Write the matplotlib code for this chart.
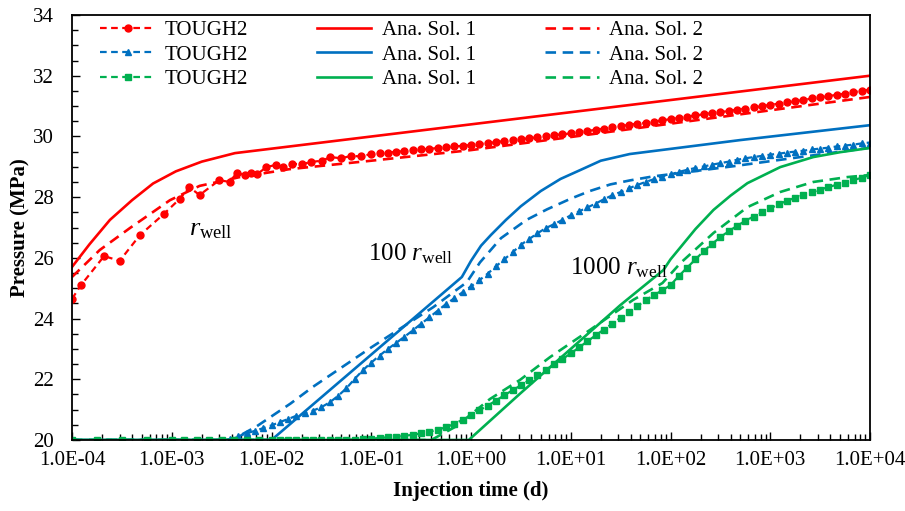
import matplotlib
matplotlib.use('Agg')
import matplotlib.pyplot as plt
from matplotlib.ticker import FixedLocator, MultipleLocator, FuncFormatter, NullFormatter

plt.rcParams['font.family'] = 'Liberation Serif'
plt.rcParams['mathtext.fontset'] = 'custom'
plt.rcParams['mathtext.rm'] = 'Liberation Serif'
plt.rcParams['mathtext.it'] = 'Liberation Serif:italic'

RED = '#FF0000'
BLUE = '#0070C0'
GREEN = '#00B050'

x_major = [1e-4, 1e-3, 1e-2, 1e-1, 1e0, 1e1, 1e2, 1e3, 1e4]

# TOUGH2 output times (dense part of the run)
t_dense = [1e-2, 1.21e-2, 1.47e-2, 1.78e-2, 2.15e-2, 2.61e-2, 3.16e-2, 3.83e-2, 4.64e-2, 5.62e-2, 6.81e-2, 8.25e-2,
           0.1, 0.121, 0.147, 0.178, 0.215, 0.261, 0.316, 0.383, 0.464, 0.562, 0.681, 0.825,
           1, 1.21, 1.47, 1.78, 2.15, 2.61, 3.16, 3.83, 4.64, 5.62, 6.81, 8.25,
           10, 12.1, 14.7, 17.8, 21.5, 26.1, 31.6, 38.3, 46.4, 56.2, 68.1, 82.5,
           100, 121, 147, 178, 215, 261, 316, 383, 464, 562, 681, 825,
           1000, 1210, 1470, 1780, 2150, 2610, 3160, 3830, 4640, 5620, 6810, 8250, 1e4]

# ---- r_well ----
t_red_T = [1e-4, 1.23e-4, 2.1e-4, 3.0e-4, 4.8e-4, 8.3e-4, 1.2e-3, 1.5e-3, 1.9e-3, 3.0e-3, 3.8e-3, 4.5e-3, 5.4e-3, 6.2e-3, 7.2e-3, 8.9e-3,
           1.1e-2, 1.3e-2, 1.6e-2, 2.0e-2, 2.5e-2, 3.2e-2, 3.9e-2, 5e-2, 6.3e-2, 7.9e-2] + t_dense[12:]
p_red_T = [24.65, 25.1, 26.06, 25.9, 26.75, 27.44, 27.94, 28.33, 28.07, 28.56, 28.5, 28.8, 28.73, 28.8, 28.76, 28.99,
           29.06, 29.0, 29.1, 29.08, 29.16, 29.2, 29.32, 29.28, 29.36, 29.34,
           29.42, 29.44, 29.47, 29.49, 29.52, 29.54, 29.57, 29.59, 29.62, 29.64, 29.67, 29.69,
           29.72, 29.75, 29.78, 29.81, 29.85, 29.88, 29.91, 29.94, 29.97, 30.0, 30.04, 30.07,
           30.1, 30.14, 30.18, 30.22, 30.26, 30.3, 30.34, 30.38, 30.42, 30.45, 30.49, 30.53,
           30.57, 30.61, 30.65, 30.69, 30.73, 30.77, 30.8, 30.84, 30.88, 30.92, 30.96, 31.0,
           31.04, 31.08, 31.12, 31.16, 31.2, 31.25, 31.29, 31.33, 31.37, 31.41, 31.46, 31.5, 31.54]
t_red_s1 = [1e-4, 1.5e-4, 2.4e-4, 4e-4, 6.5e-4, 1.1e-3, 2e-3, 4.3e-3, 1e4]
p_red_s1 = [25.7, 26.45, 27.25, 27.9, 28.45, 28.85, 29.17, 29.45, 32.0]
t_red_s2 = [1e-4, 1.9e-4, 3.8e-4, 9.6e-4, 1.9e-3, 4.8e-3, 1.5e-2, 0.1, 1, 10, 100, 1000, 1e4]
p_red_s2 = [25.37, 26.26, 26.98, 27.9, 28.37, 28.66, 28.92, 29.2, 29.55, 29.98, 30.42, 30.86, 31.3]

# ---- 100 r_well ----
t_blue_T = [1e-4, 1.78e-4, 3.16e-4, 5.62e-4, 1e-3, 1.78e-3, 3.16e-3, 3.83e-3, 4.64e-3, 5.62e-3, 6.81e-3, 8.25e-3] + t_dense
p_blue_T = [20, 20, 20, 20, 20, 20, 20, 20.03, 20.12, 20.22, 20.3, 20.39,
            20.48, 20.59, 20.69, 20.8, 20.88, 20.97, 21.08, 21.24, 21.45, 21.7, 22.01, 22.3,
            22.55, 22.78, 23.0, 23.2, 23.4, 23.61, 23.83, 24.04, 24.26, 24.48, 24.67, 24.87,
            25.06, 25.26, 25.48, 25.72, 25.95, 26.18, 26.43, 26.62, 26.81, 26.98, 27.11, 27.25,
            27.4, 27.53, 27.66, 27.79, 27.93, 28.06, 28.17, 28.29, 28.4, 28.5, 28.59, 28.68,
            28.75, 28.83, 28.9, 28.96, 29.01, 29.07, 29.12, 29.17, 29.23, 29.28, 29.32, 29.36,
            29.4, 29.43, 29.47, 29.5, 29.53, 29.57, 29.6, 29.63, 29.67, 29.7, 29.73, 29.77, 29.8]
t_blue_s1 = [1e-4, 1e-2, 0.81, 1.0, 1.26, 1.58, 2.24, 3.16, 5.0, 7.9, 12.6, 20, 39, 500, 1e4]
p_blue_s1 = [20.0, 20.0, 25.37, 25.9, 26.4, 26.75, 27.25, 27.7, 28.2, 28.6, 28.9, 29.2, 29.42, 29.88, 30.37]
t_blue_s2 = [1e-4, 4e-3, 7.1e-3, 1.55e-2, 2.6e-2, 0.1, 0.42, 0.91, 1.23, 2.0, 3.6, 5.8, 10, 15.5, 25, 39, 66, 430, 2000, 1e4]
p_blue_s2 = [20.0, 20.0, 20.45, 21.2, 21.75, 23.05, 24.38, 25.2, 25.85, 26.65, 27.25, 27.6, 27.95, 28.2, 28.42, 28.55, 28.68, 29.02, 29.32, 29.63]

# ---- 1000 r_well ----
t_green_T = [1e-4, 1.78e-4, 3.16e-4, 5.62e-4, 1e-3, 1.33e-3, 1.78e-3, 2.37e-3, 3.16e-3, 4.22e-3, 5.62e-3, 7.5e-3] + t_dense
p_green_T = [20, 20, 20, 20, 20, 20, 20, 20, 20, 20, 20, 20,
             20, 20, 20, 20, 20, 20, 20, 20, 20, 20, 20.01, 20.03,
             20.04, 20.07, 20.09, 20.11, 20.14, 20.17, 20.22, 20.27, 20.34, 20.42, 20.53, 20.67,
             20.83, 20.98, 21.13, 21.3, 21.47, 21.64, 21.8, 21.97, 22.13, 22.3, 22.49, 22.67,
             22.85, 23.05, 23.25, 23.45, 23.64, 23.83, 24.03, 24.22, 24.41, 24.6, 24.77, 24.93,
             25.1, 25.4, 25.68, 25.95, 26.22, 26.46, 26.68, 26.88, 27.05, 27.22, 27.36, 27.5,
             27.63, 27.76, 27.88, 27.98, 28.07, 28.16, 28.25, 28.33, 28.41, 28.48, 28.56, 28.64, 28.73]
t_green_s1 = [1e-4, 0.95, 3.16, 10, 31.6, 85, 100, 126, 178, 270, 400, 590, 1260, 2700, 5000, 1e4]
p_green_s1 = [20, 20, 21.55, 23.0, 24.45, 25.6, 25.95, 26.35, 26.95, 27.58, 28.05, 28.46, 28.99, 29.32, 29.48, 29.62]
t_green_s2 = [1e-4, 0.4, 0.71, 1.55, 3.1, 6.2, 15.5, 42, 83, 126, 270, 590, 1260, 2700, 5900, 1e4]
p_green_s2 = [20, 20, 20.45, 21.35, 21.98, 22.73, 23.62, 24.61, 25.17, 25.83, 26.82, 27.67, 28.17, 28.5, 28.66, 28.73]

labels = ['TOUGH2', 'Ana. Sol. 1', 'Ana. Sol. 2']

fig = plt.figure(figsize=(9.05, 5.11), dpi=100)
ax = fig.add_axes([72 / 905, 1 - 440 / 511, (870 - 72) / 905, (440 - 15) / 511])

series = [
    (RED, 'o', t_red_T, p_red_T, t_red_s1, p_red_s1, t_red_s2, p_red_s2),
    (BLUE, '^', t_blue_T, p_blue_T, t_blue_s1, p_blue_s1, t_blue_s2, p_blue_s2),
    (GREEN, 's', t_green_T, p_green_T, t_green_s1, p_green_s1, t_green_s2, p_green_s2),
]
cols = [[], [], []]
for c, m, tT, pT, t1, p1, t2, p2 in series:
    hT, = ax.plot(tT, pT, color=c, ls=(0, (3, 2)), lw=1.6, marker=m, ms=5, label=labels[0])
    h1, = ax.plot(t1, p1, color=c, ls='-', lw=1.9, label=labels[1])
    h2, = ax.plot(t2, p2, color=c, ls=(0, (4, 2.5)), lw=1.9, label=labels[2])
    cols[0].append(hT)
    cols[1].append(h1)
    cols[2].append(h2)

handles = cols[0] + cols[1] + cols[2]
ax.legend(handles, [h.get_label() for h in handles], ncol=3, loc='upper left',
          bbox_to_anchor=(0.02, 1.017), frameon=False, fontsize=15, handlelength=2.6,
          handletextpad=0.5, columnspacing=3.3, labelspacing=0.25, borderaxespad=0.2)

ax.set_xscale('log')
ax.set_xlim(1e-4, 1e4)
ax.set_ylim(20, 34)
minors = [m * d for d in x_major[:-1] for m in range(2, 10)]
ax.xaxis.set_major_locator(FixedLocator(x_major))
ax.xaxis.set_minor_locator(FixedLocator(minors))
ax.xaxis.set_major_formatter(FuncFormatter(lambda v, p: f'{v:.1E}'))
ax.xaxis.set_minor_formatter(NullFormatter())
ax.yaxis.set_major_locator(MultipleLocator(2))
ax.yaxis.set_minor_locator(MultipleLocator(0.5))
ax.tick_params(which='both', direction='in', labelsize=15, width=1)
ax.tick_params(which='major', length=6)
ax.tick_params(which='minor', length=4)
ax.tick_params(axis='x', which='major', pad=8)
ax.tick_params(axis='y', which='major', pad=13)
for s in ax.spines.values():
    s.set_linewidth(1.3)

ax.set_xlabel('Injection time (d)', fontsize=15, fontweight='bold', labelpad=8)
ax.set_ylabel('Pressure (MPa)', fontsize=15, fontweight='bold', labelpad=2)

ax.text(1.5e-3, 26.75, r'$r_{\rm well}$', fontsize=19, va='baseline')
ax.text(0.093, 25.93, r'100 $r_{\rm well}$', fontsize=18, va='baseline')
ax.text(9.8, 25.45, r'1000 $r_{\rm well}$', fontsize=18, va='baseline')

fig.savefig('out.png', dpi=100)
